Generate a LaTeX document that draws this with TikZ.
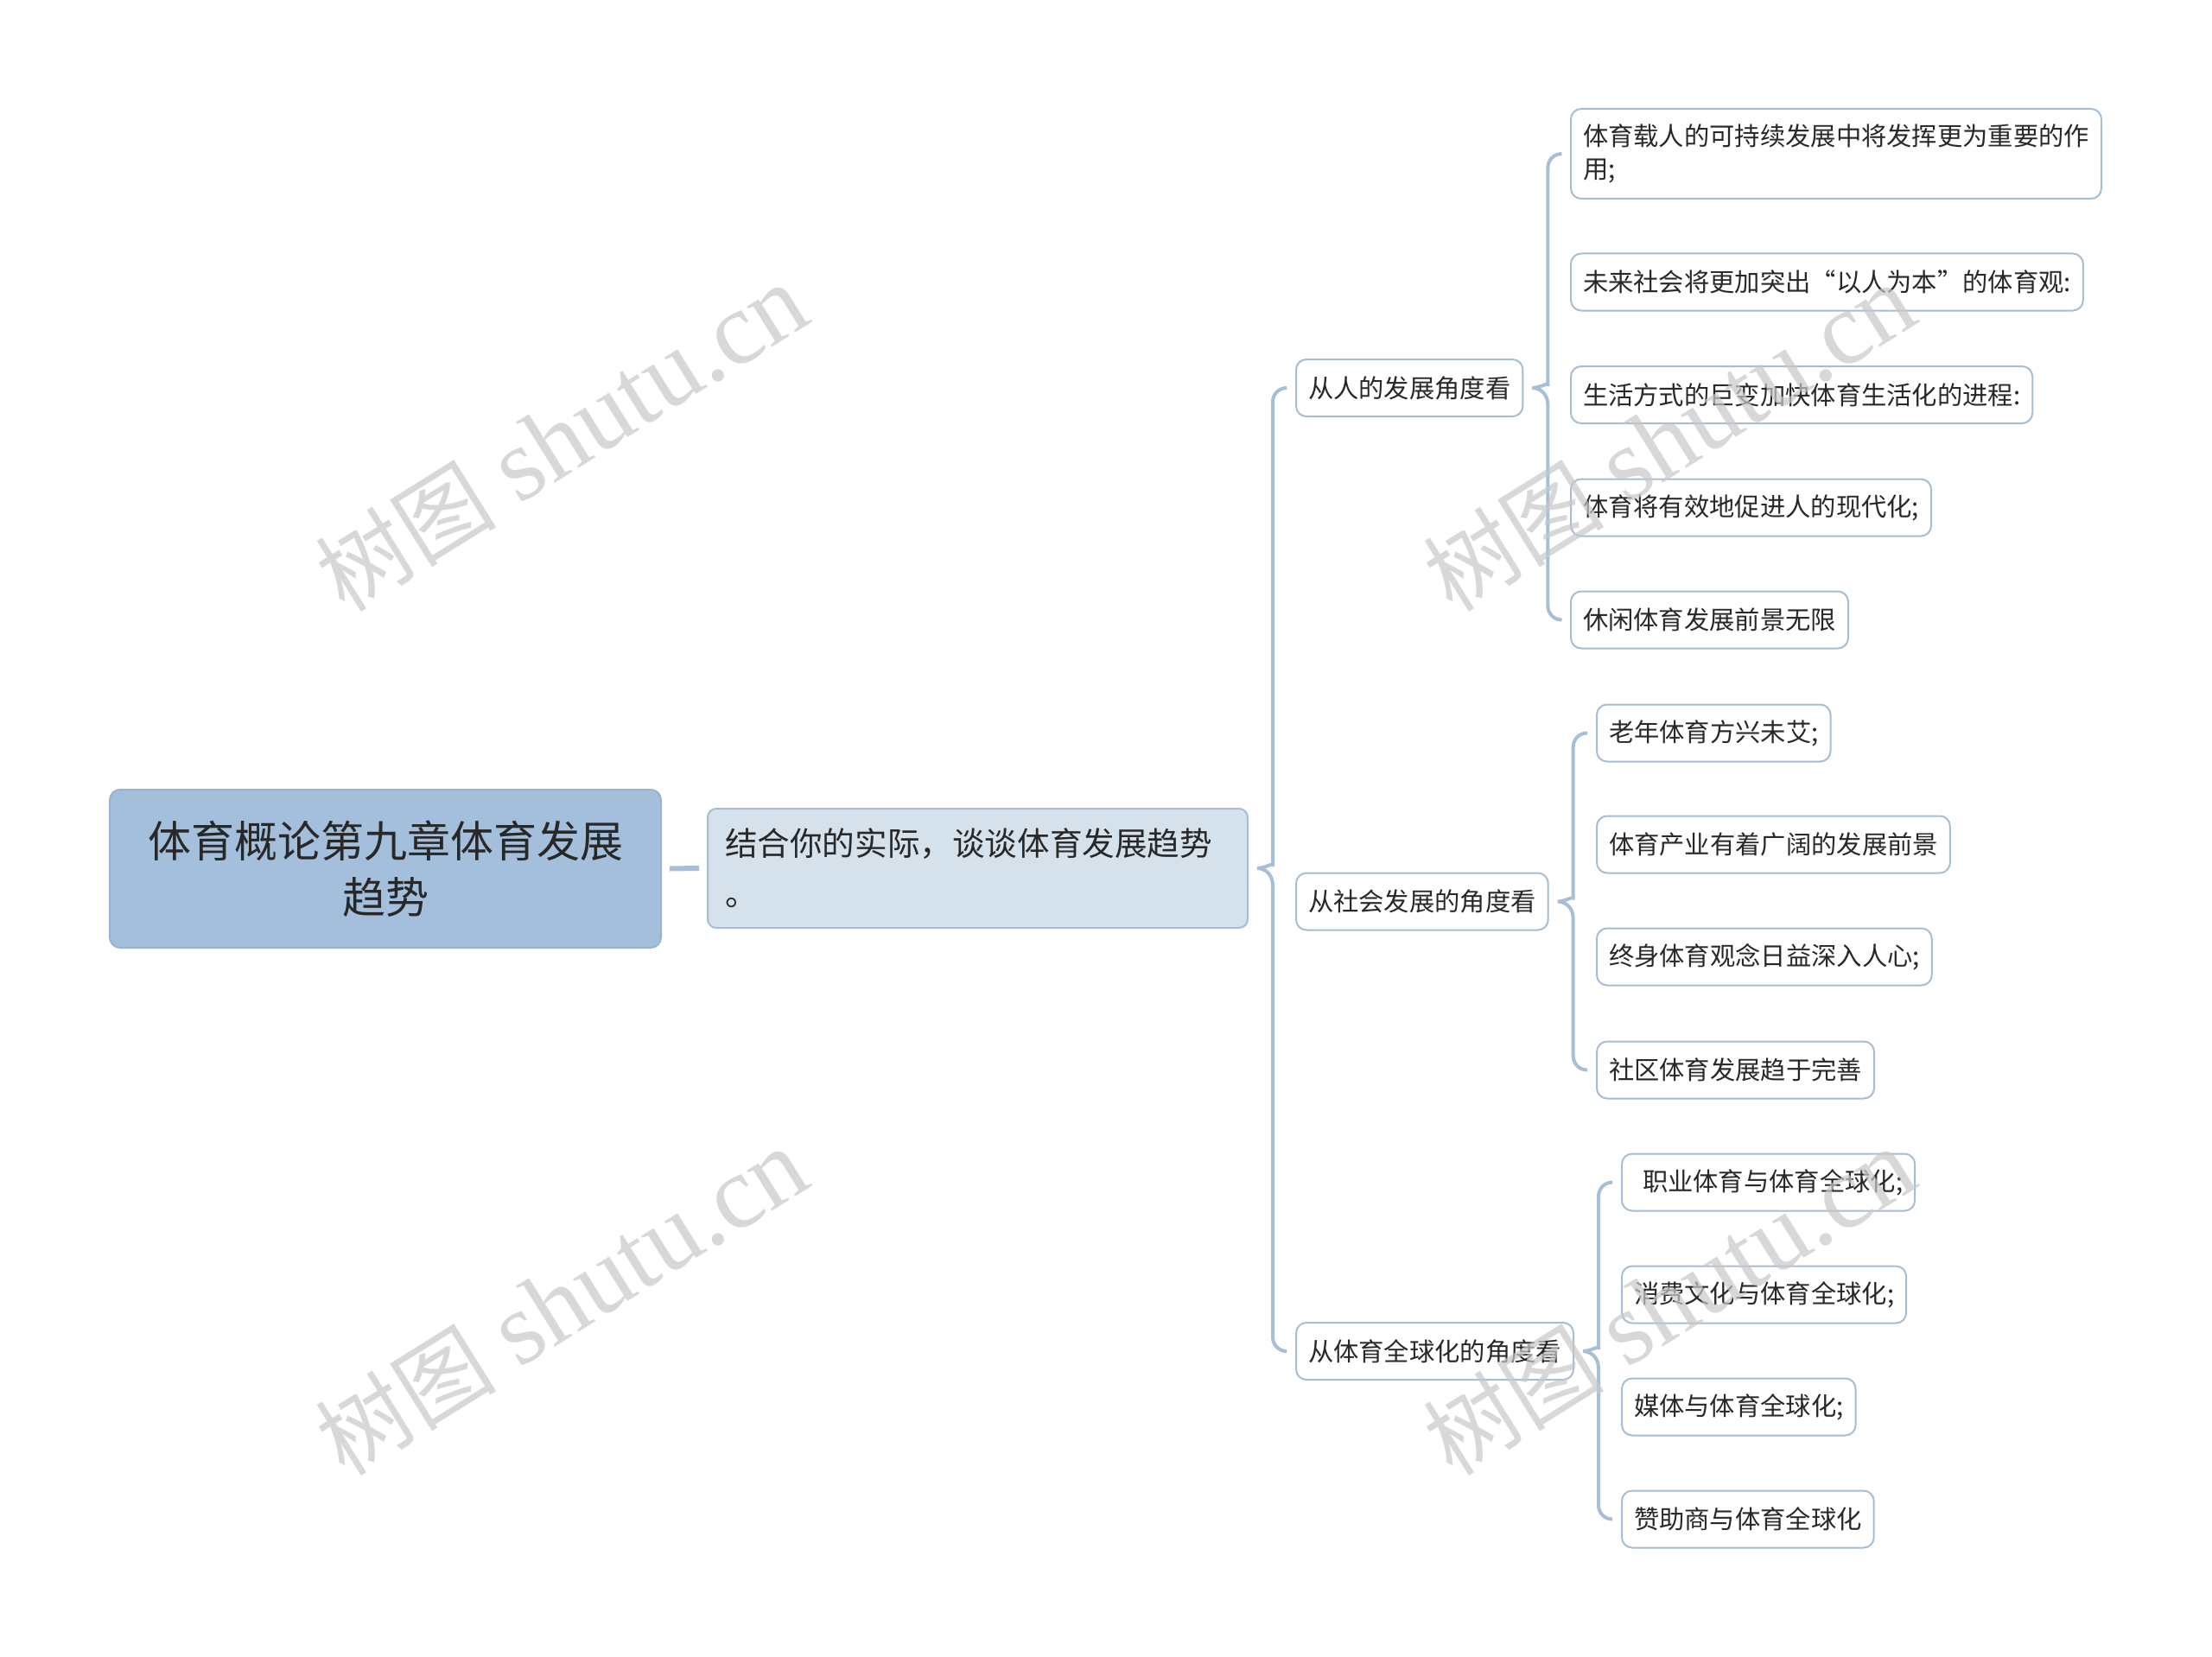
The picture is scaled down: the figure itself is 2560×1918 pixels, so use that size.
\documentclass[tikz,border=0pt]{standalone}
\usepackage{fontspec}
\setmainfont{Noto Sans CJK SC}
\newfontfamily\wmfont{Liberation Serif}
\usetikzlibrary{calc}

\definecolor{rootfill}{RGB}{163,191,219}
\definecolor{rootline}{RGB}{150,180,210}
\definecolor{topicfill}{RGB}{213,225,235}
\definecolor{boxline}{RGB}{166,189,212}
\definecolor{linkcol}{RGB}{166,190,214}
\definecolor{textdark}{RGB}{40,40,40}
\definecolor{wmgray}{RGB}{200,200,200}

\tikzset{
	rootbox/.style={draw=rootline, fill=rootfill, line width=2pt, rounded corners=12pt, anchor=west,
		text width=552pt, align=center, inner xsep=43pt, inner ysep=0pt, minimum height=183pt,
		text=textdark, font=\fontsize{50}{65}\selectfont},
	topicbox/.style={draw=boxline, fill=topicfill, line width=2pt, rounded corners=10pt, anchor=west,
		text width=585pt, align=left, inner xsep=20pt, inner ysep=0pt, minimum height=138pt,
		text=textdark, font=\fontsize{37.6}{58}\selectfont},
	subbox/.style={draw=boxline, fill=white, line width=2pt, rounded corners=12pt, anchor=west,
		align=left, inner xsep=14pt, inner ysep=0pt, minimum height=66pt,
		text=textdark, font=\fontsize{29.3}{38}\selectfont},
	link/.style={draw=linkcol, line width=4pt},
	watermark/.style={text=wmgray, opacity=0.7, rotate=32, inner sep=0pt,
		font=\fontsize{120}{120}\selectfont}
}

% brace from a parent to its first and last child
\newcommand{\linkbrace}[3]{%
	\coordinate (tip) at ($(#1.east)+(10,0)$);
	\coordinate (spine) at ($(tip)+(18,0)$);
	\draw[link] ($(#2.west)+(-10,0)$) [rounded corners=16pt] -- (spine |- #2.west)
		-- ($(spine |- tip)+(0,-20)$) [sharp corners]
		.. controls ($(spine |- tip)+(0,-6)$) and ($(tip)+(8,0)$) .. (tip)
		.. controls ($(tip)+(8,0)$) and ($(spine |- tip)+(0,6)$) .. ($(spine |- tip)+(0,20)$)
		[rounded corners=16pt] -- (spine |- #3.west) -- ($(#3.west)+(-10,0)$);
}
\newcommand{\wmtext}{{\fontsize{105}{105}\selectfont 树图} {\wmfont shutu.cn}}

\begin{document}
\begin{tikzpicture}[x=1pt, y=-1pt]
	\useasboundingbox (0,0) rectangle (2560,1918);

	\node[rootbox] (root) at (126,1005.5) {体育概论第九章体育发展\\趋势};
	\node[topicbox] (topic) at (818,1005) {结合你的实际，谈谈体育发展趋势\\。};
	\draw[link, line width=6pt] ($(root.east)+(9,0)$) -- ($(topic.west)+(-9,0)$);

	\node[subbox] (person) at (1499,449) {从人的发展角度看};
	\node[subbox] (society) at (1499,1043.5) {从社会发展的角度看};
	\node[subbox] (global) at (1499,1564) {从体育全球化的角度看};
	\linkbrace{topic}{person}{global}

	\node[subbox, minimum height=104pt] (p1) at (1817,178) {体育载人的可持续发展中将发挥更为重要的作\\用;};
	\node[subbox] (p2) at (1817,326.5) {未来社会将更加突出“以人为本”的体育观:};
	\node[subbox] (p3) at (1817,457) {生活方式的巨变加快体育生活化的进程:};
	\node[subbox] (p4) at (1817,587.5) {体育将有效地促进人的现代化;};
	\node[subbox] (p5) at (1817,717.5) {休闲体育发展前景无限};
	\linkbrace{person}{p1}{p5}

	\node[subbox] (s1) at (1847,848.5) {老年体育方兴未艾;};
	\node[subbox] (s2) at (1847,977.5) {体育产业有着广阔的发展前景};
	\node[subbox] (s3) at (1847,1107.5) {终身体育观念日益深入人心;};
	\node[subbox] (s4) at (1847,1238.5) {社区体育发展趋于完善};
	\linkbrace{society}{s1}{s4}

	\node[subbox] (g1) at (1876,1368.5) {\hspace*{10pt}职业体育与体育全球化;};
	\node[subbox] (g2) at (1876,1498.5) {消费文化与体育全球化;};
	\node[subbox] (g3) at (1876,1628.5) {媒体与体育全球化;};
	\node[subbox] (g4) at (1876,1758.5) {赞助商与体育全球化};
	\linkbrace{global}{g1}{g4}

	\node[watermark] (wm1) at (650,507) {\wmtext};
	\node[watermark] (wm2) at (650,1507) {\wmtext};
	\node[watermark] (wm3) at (1932,507) {\wmtext};
	\node[watermark] (wm4) at (1932,1507) {\wmtext};
\end{tikzpicture}
\end{document}
